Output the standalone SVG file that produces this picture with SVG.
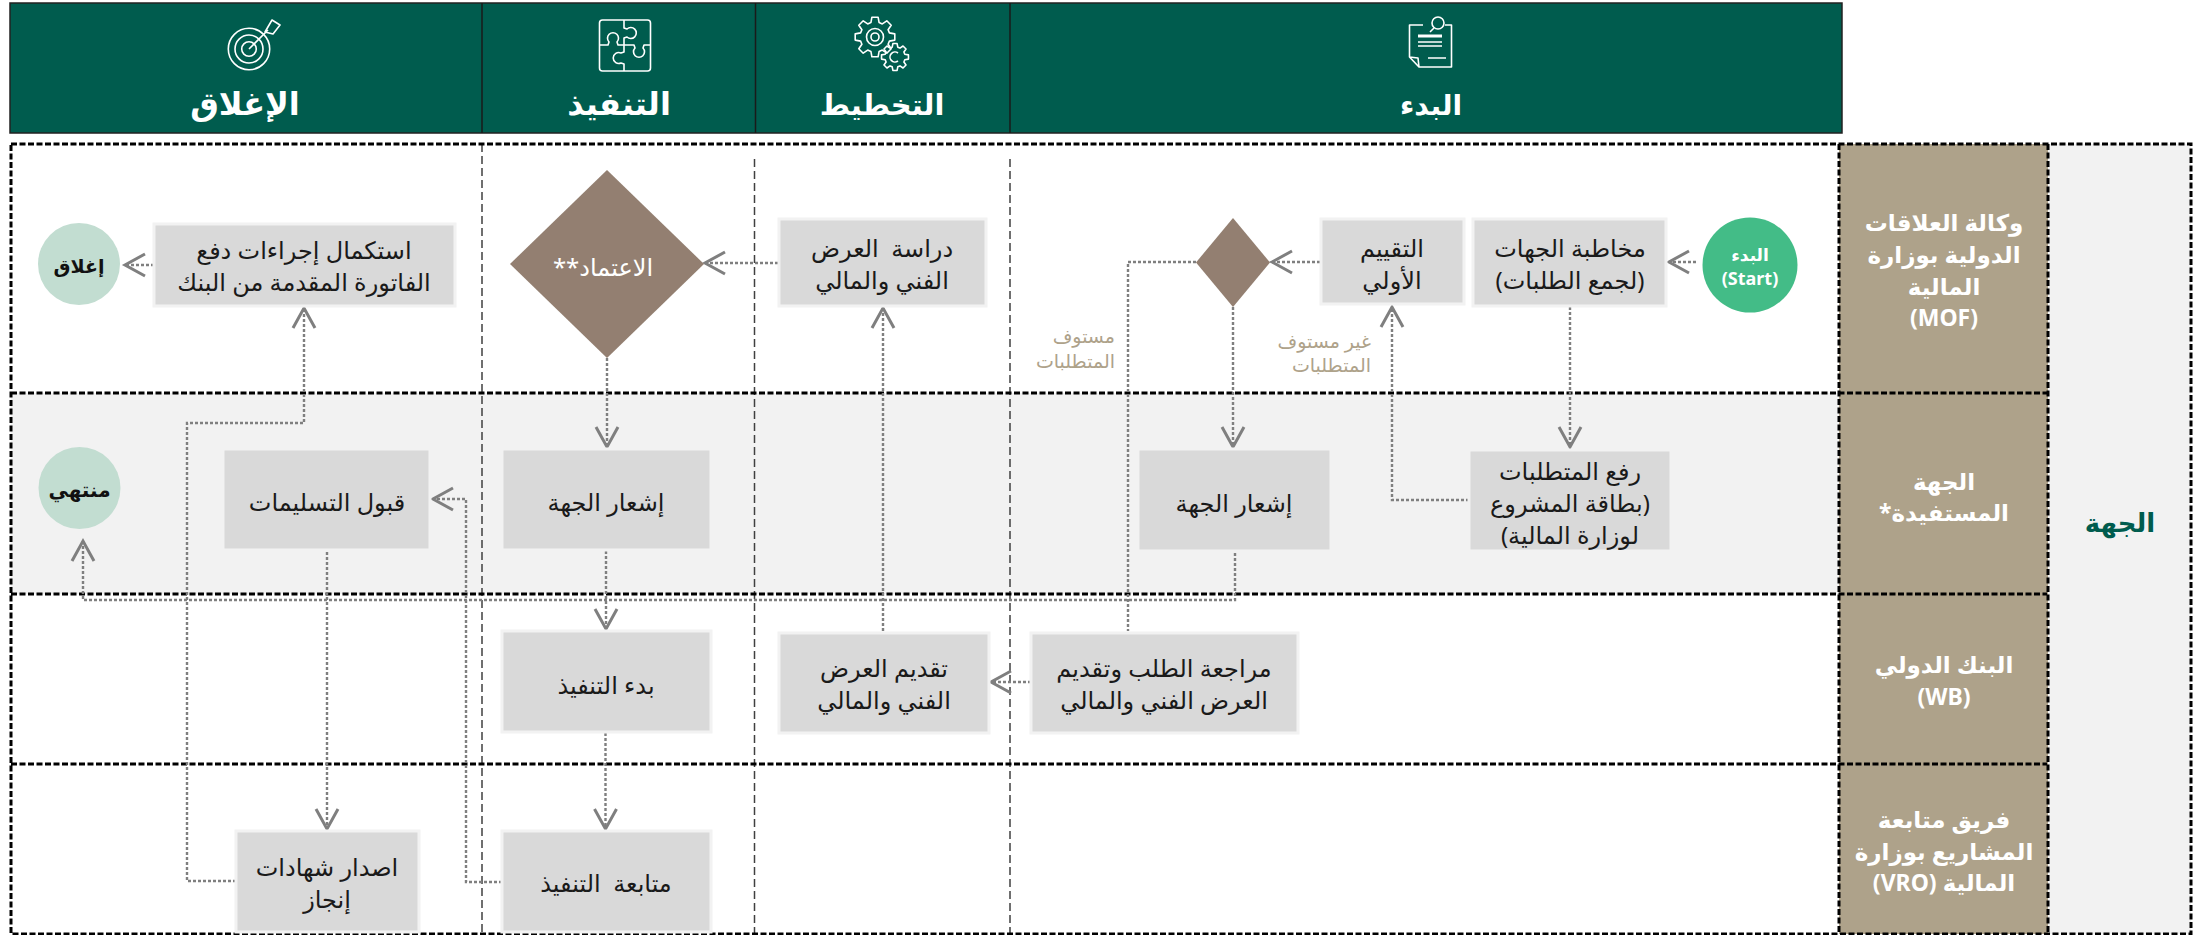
<svg xmlns="http://www.w3.org/2000/svg" width="2203" height="935" viewBox="0 0 2203 935">
<style>
text{font-family:"Noto Sans","DejaVu Sans",sans-serif;text-anchor:middle;direction:rtl;white-space:pre}
.box{fill:#d9d9d9;stroke:#f2f2f2;stroke-width:3}
.t{font-size:24px;fill:#1a1a1a}
.lane{font-size:23px;font-weight:700;fill:#fff}
.head{font-size:32px;font-weight:700;fill:#fff}
.note{font-size:19px;fill:#aea28a}
.c{fill:none;stroke:#7f7f7f;stroke-width:2.4;stroke-dasharray:3 2}
.a{marker-end:url(#arrow)}
.dia{fill:#937f71}
.thick{fill:none;stroke:#000;stroke-width:3;stroke-dasharray:6 2.5}
.col{fill:none;stroke:#404040;stroke-width:1.5;stroke-dasharray:8 4}
.ic{fill:none;stroke:#fff;stroke-width:1.6;stroke-linejoin:round}
.gear{vector-effect:non-scaling-stroke}
</style>
<defs>
<marker id="arrow" markerUnits="userSpaceOnUse" markerWidth="30" markerHeight="30" refX="22" refY="13" orient="auto" viewBox="0 0 30 30">
<path d="M2 2L22 13L2 24" fill="none" stroke="#7f7f7f" stroke-width="3"/>
</marker>
<path id="gear" class="gear" d="M19.8 -3.100L19.8 3.100L14.400 4.100L13.100 7.300L16.200 11.800L11.800 16.200L7.300 13.100L4.100 14.400L3.100 19.800L-3.100 19.800L-4.100 14.400L-7.300 13.100L-11.800 16.200L-16.200 11.800L-13.100 7.300L-14.400 4.100L-19.800 3.100L-19.800 -3.100L-14.400 -4.100L-13.100 -7.300L-16.200 -11.800L-11.800 -16.200L-7.300 -13.100L-4.100 -14.400L-3.100 -19.800L3.100 -19.800L4.100 -14.400L7.300 -13.100L11.800 -16.200L16.200 -11.800L13.100 -7.300L14.400 -4.100Z"/>
</defs>
<rect width="2203" height="935" fill="#fff"/>
<g id="header">
<rect x="10" y="3" width="1832" height="130" fill="#005c4e" stroke="#222" stroke-width="1.5"/>
<path d="M482 3V133M755.500 3V133M1010 3V133" stroke="#1a1a1a" stroke-width="1.500"/>
<text class="head" x="245" y="115">الإغلاق</text>
<text class="head" x="619" y="115">التنفيذ</text>
<text class="head" x="882" y="115" style="font-size:29px">التخطيط</text>
<text class="head" x="1431" y="115" style="font-size:28px">البدء</text>
<g id="icon-target" class="ic">
<circle cx="249" cy="49" r="20.700"/><circle cx="249" cy="49" r="14"/><circle cx="249" cy="49" r="7.300"/>
<path d="M249 49L268 30M265 32L272 20L280 25L273 34Z"/>
</g>
<g id="icon-puzzle" class="ic">
<rect x="599.500" y="20" width="51" height="51" rx="3"/>
<path d="M624 20V28L627 29A5.500 5.500 0 1 1 627 37L624 38V45M600 45H608L609 42A5.500 5.500 0 1 1 617 42L618 45H634L635 48A5.500 5.500 0 1 0 643 48L644 45H651M624 45V52L621 53A5.500 5.500 0 1 0 621 63L624 64V71"/>
</g>
<g id="icon-gears" class="ic">
<use href="#gear" transform="translate(875 37)"/>
<circle cx="875" cy="37" r="8.500"/><circle cx="875" cy="37" r="4"/>
<use href="#gear" transform="translate(895 57) scale(.68)"/>
<path d="M898 53A5 5 0 1 0 898 61"/>
</g>
<g id="icon-doc" class="ic">
<path d="M1423 25H1409.500V57L1419 67H1451.500V25H1445M1409.500 57L1418 58L1419 67"/>
<circle cx="1438" cy="23" r="6"/>
<path d="M1434 28L1430 32M1428 58H1446M1418 42H1442M1418 46H1442"/>
<path d="M1418 36H1442" stroke-width="3"/>
</g>
</g>
<g id="lanes">
<rect x="11" y="393" width="1829" height="201" fill="#f2f2f2"/>
<rect x="2048" y="144" width="143" height="790" fill="#f2f2f2"/>
<rect x="1839" y="144" width="209" height="790" fill="#aea28a"/>
<path class="col" d="M482 144V934M754.500 159V934M1010 159V934"/>
<path class="thick" d="M11 144H2191V934H11ZM11 393H2047M11 594H2047M11 764H2047M1839 144V934M2048 144V934"/>
<text class="lane" x="1944" y="231">وكالة العلاقات</text>
<text class="lane" x="1944" y="263">الدولية بوزارة</text>
<text class="lane" x="1944" y="295">المالية</text>
<text class="lane" x="1944" y="326">(MOF)</text>
<text class="lane" x="1944" y="490">الجهة</text>
<text class="lane" x="1944" y="521">المستفيدة*</text>
<text class="lane" x="1944" y="673">البنك الدولي</text>
<text class="lane" x="1944" y="705">(WB)</text>
<text class="lane" x="1944" y="828">فريق متابعة</text>
<text class="lane" x="1944" y="860">المشاريع بوزارة</text>
<text class="lane" x="1944" y="891">المالية (VRO)</text>
<text x="2120" y="532" font-size="26" font-weight="700" fill="#005c4e">الجهة</text>
</g>
<g id="connectors">
<path class="c a" d="M1696 262H1669"/>
<path class="c a" d="M1570 307V447"/>
<path class="c a" d="M1320 262H1272"/>
<path class="c a" d="M1233 307V447"/>
<path class="c a" d="M1469 500H1392V307"/>
<path class="c" d="M1196 262H1128V631"/>
<path class="c a" d="M1031 682H991"/>
<path class="c a" d="M883 631V308"/>
<path class="c a" d="M778 263H705"/>
<path class="c a" d="M607 358V447"/>
<path class="c a" d="M606 551V629"/>
<path class="c a" d="M605.500 733V829"/>
<path class="c a" d="M502 882H466V499H433"/>
<path class="c a" d="M327 552V829"/>
<path class="c a" d="M236 881H187V423H304V308"/>
<path class="c a" d="M154 265H125"/>
<path class="c a" d="M1235 553V600H83V541"/>
<text class="note" x="1115" y="343" style="text-anchor:start">مستوف</text>
<text class="note" x="1115" y="368" style="text-anchor:start">المتطلبات</text>
<text class="note" x="1371" y="348" style="text-anchor:start">غير مستوف</text>
<text class="note" x="1371" y="372" style="text-anchor:start">المتطلبات</text>
</g>
<g id="n-start"><circle cx="1750" cy="265" r="47.500" fill="#43bc87"/><text x="1750" y="261" font-size="17" font-weight="700" fill="#fff">البدء</text><text x="1750" y="285" font-size="18" font-weight="700" fill="#fff">(Start)</text></g>
<g id="n-address"><rect class="box" x="1473" y="219" width="193" height="87"/><text class="t" x="1570" y="257">مخاطبة الجهات</text><text class="t" x="1570" y="289">(لجمع الطلبات)</text></g>
<g id="n-eval"><rect class="box" x="1321" y="219" width="143" height="85"/><text class="t" x="1392" y="257">التقييم</text><text class="t" x="1392" y="289">الأولي</text></g>
<g id="n-dec1"><polygon class="dia" points="1233,218 1270,262.500 1233,307 1196,262.500"/></g>
<g id="n-study"><rect class="box" x="779" y="219" width="207" height="87"/><text class="t" x="882" y="257">دراسة  العرض</text><text class="t" x="882" y="289">الفني والمالي</text></g>
<g id="n-approve"><polygon class="dia" points="607,170 704,264 607,358 510,264"/><text x="603" y="276" font-size="24" fill="#fff">الاعتماد**</text></g>
<g id="n-complete"><rect class="box" x="154" y="224" width="301" height="82"/><text class="t" x="304" y="259">استكمال إجراءات دفع</text><text class="t" x="304" y="291">الفاتورة المقدمة من البنك</text></g>
<g id="n-close"><circle cx="79" cy="264" r="41" fill="#c2ddd1"/><text x="79" y="273" font-size="19" font-weight="700" fill="#111">إغلاق</text></g>
<g id="n-raise"><rect class="box" x="1469" y="450" width="202" height="101"/><text class="t" x="1570" y="480">رفع المتطلبات</text><text class="t" x="1570" y="512">(بطاقة المشروع</text><text class="t" x="1570" y="544">لوزارة المالية)</text></g>
<g id="n-notify1"><rect class="box" x="1138" y="449" width="193" height="102"/><text class="t" x="1234" y="512">إشعار الجهة</text></g>
<g id="n-notify2"><rect class="box" x="502" y="449" width="209" height="101"/><text class="t" x="606" y="511">إشعار الجهة</text></g>
<g id="n-accept"><rect class="box" x="223" y="449" width="207" height="101"/><text class="t" x="327" y="511">قبول التسليمات</text></g>
<g id="n-end"><circle cx="79.500" cy="488" r="41" fill="#c2ddd1"/><text x="79.500" y="497" font-size="20" font-weight="700" fill="#111">منتهي</text></g>
<g id="n-review"><rect class="box" x="1031" y="633" width="267" height="100"/><text class="t" x="1164" y="677">مراجعة الطلب وتقديم</text><text class="t" x="1164" y="709">العرض الفني والمالي</text></g>
<g id="n-offer"><rect class="box" x="779" y="633" width="210" height="100"/><text class="t" x="884" y="677">تقديم العرض</text><text class="t" x="884" y="709">الفني والمالي</text></g>
<g id="n-begin"><rect class="box" x="502" y="631" width="209" height="101"/><text class="t" x="606" y="694">بدء التنفيذ</text></g>
<g id="n-cert"><rect class="box" x="236" y="831" width="183" height="101"/><text class="t" x="327" y="876">اصدار شهادات</text><text class="t" x="327" y="908">إنجاز</text></g>
<g id="n-follow"><rect class="box" x="502" y="831" width="209" height="101"/><text class="t" x="606" y="892">متابعة  التنفيذ</text></g>
</svg>
